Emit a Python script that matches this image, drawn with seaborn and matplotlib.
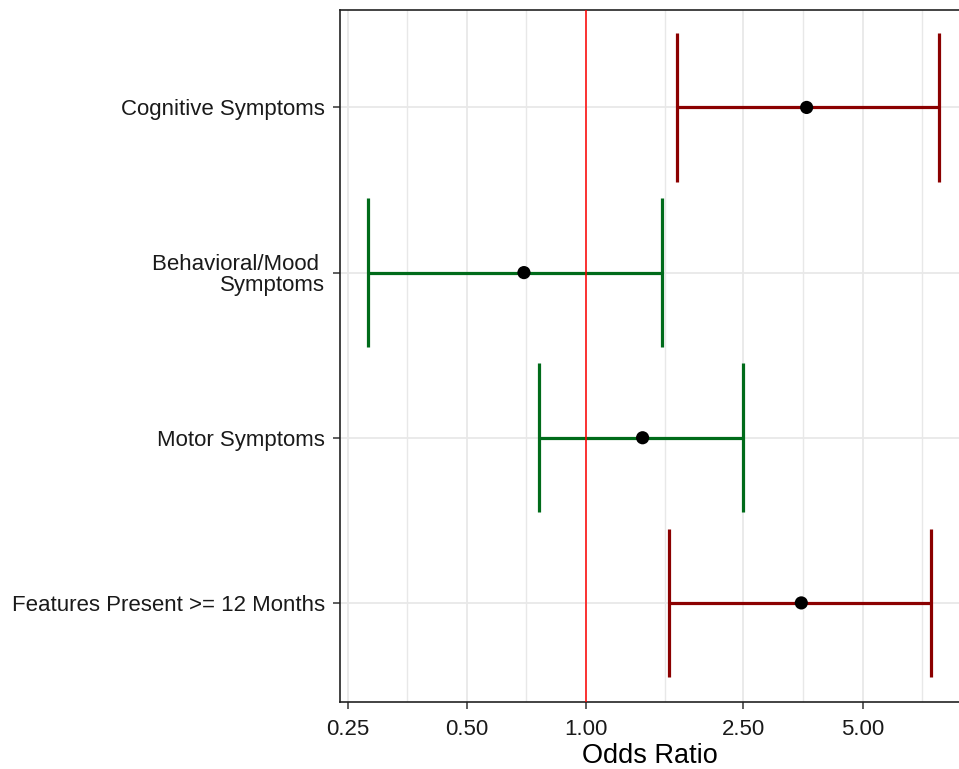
import numpy as np
import pandas as pd
import matplotlib
matplotlib.use("Agg")
import matplotlib.pyplot as plt
import seaborn as sns
from matplotlib.ticker import FixedLocator, NullFormatter

# ---- data ----
categories = ["Cognitive Symptoms", "Behavioral/Mood \nSymptoms",
              "Motor Symptoms", "Features Present >= 12 Months"]
odds_ratio = [3.61, 0.697, 1.39, 3.50]
ci_lower = [1.695, 0.282, 0.762, 1.621]
ci_upper = [7.78, 1.553, 2.497, 7.45]
bar_colors = ["#8B0000", "#006B1A", "#006B1A", "#8B0000"]
x_ticks = [0.25, 0.5, 1.0, 2.5, 5.0]
x_tick_labels = ["0.25", "0.50", "1.00", "2.50", "5.00"]
reference_value = 1.0

sns.set_theme(style="white")
plt.rcParams["font.family"] = ["Liberation Sans", "DejaVu Sans"]

df = pd.DataFrame({
    "category": categories,
    "pos": np.arange(len(categories)),
    "odds_ratio": odds_ratio,
    "lo": ci_lower,
    "hi": ci_upper,
    "color": bar_colors,
})

W, H = 959, 769
fig = plt.figure(figsize=(W / 100, H / 100), dpi=100)
ax = fig.add_axes([340 / W, 67 / H, 619 / W, 692 / H])
ax.set_xscale("log")
ax.set_xlim(0.239, 8.76)
ax.set_ylim(len(categories) - 0.4, -0.59)

# grid
minor = [np.sqrt(a * b) for a, b in zip(x_ticks[:-1], x_ticks[1:])] + [x_ticks[-1] * np.sqrt(2)]
ax.xaxis.set_major_locator(FixedLocator(x_ticks))
ax.xaxis.set_minor_locator(FixedLocator(minor))
ax.xaxis.set_minor_formatter(NullFormatter())
ax.set_xticklabels(x_tick_labels)
ax.set_yticks(df["pos"])
ax.set_yticklabels(df["category"], linespacing=1.0)
ax.grid(True, which="major", color="#E8E8E8", linewidth=1.3, zorder=0)
ax.grid(True, which="minor", axis="x", color="#E8E8E8", linewidth=1.0, zorder=0)
ax.set_axisbelow(True)

# error bars
lw = 2.3
ax.hlines(df["pos"], df["lo"], df["hi"], colors=df["color"], linewidth=lw, zorder=2)
ax.vlines(df["lo"], df["pos"] - 0.45, df["pos"] + 0.45, colors=df["color"], linewidth=lw, zorder=2)
ax.vlines(df["hi"], df["pos"] - 0.45, df["pos"] + 0.45, colors=df["color"], linewidth=lw, zorder=2)

# reference line
ax.axvline(reference_value, color="red", linewidth=1.1, zorder=3)

# points
sns.scatterplot(data=df, x="odds_ratio", y="pos", color="black", s=90,
                edgecolor="none", zorder=4, ax=ax, legend=False)

ax.set_xlabel("Odds Ratio", fontsize=19.5, color="black", labelpad=2.3)
ax.set_ylabel("")

for side in ["left", "bottom", "top"]:
    ax.spines[side].set_color("#222222")
    ax.spines[side].set_linewidth(1.2)
ax.spines["right"].set_visible(False)

ax.tick_params(axis="both", which="major", length=4.7, width=1.1, color="#333333",
               labelsize=16, labelcolor="#1A1A1A")
ax.tick_params(axis="x", which="major", pad=7.5, bottom=True)
ax.tick_params(axis="y", which="major", pad=6, left=True)
ax.tick_params(axis="x", which="minor", length=0, bottom=False)

fig.savefig("out.png", dpi=100)
